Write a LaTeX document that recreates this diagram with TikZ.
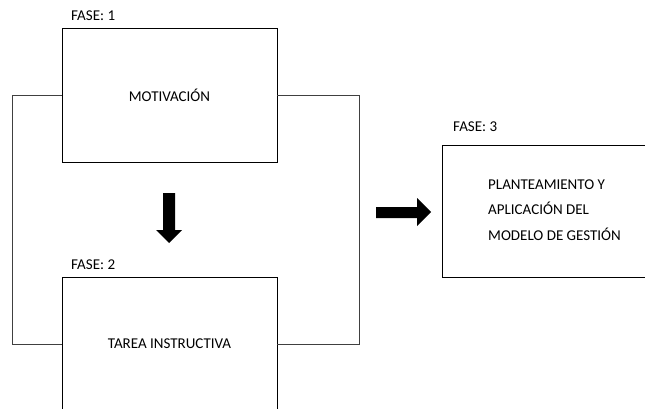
\documentclass[tikz,border=0pt]{standalone}
\usepackage{fontspec}
\setmainfont{Carlito}

\begin{document}
\begin{tikzpicture}
		[x=1pt,y=-1pt,
		 caja/.style= {draw=black,line width=0.8pt,minimum width=215pt,minimum height=134pt,inner sep=0pt,font=\fontsize{15}{17}\selectfont},
		 fase/.style= {anchor=west,inner sep=0pt,font=\fontsize{15}{17}\selectfont},
		 flecha/.style= {fill=black},
		 linea/.style= {line width=0.8pt,draw=black!75}]

		\clip (0,0) rectangle (645,409);

		\node[caja] (m1) at (169.5,95) {MOTIVACIÓN}
		;

		\node[caja] (m2) at (169.5,344) {TAREA INSTRUCTIVA}
		;

		\node[caja,minimum width=230pt,minimum height=132pt] (m3) at (557,211) {}
		;

		\node[anchor=west,inner sep=0pt,align=left,font=\fontsize{15}{25.5}\selectfont] (t3) at (488,210)
			{PLANTEAMIENTO Y\\APLICACIÓN DEL\\MODELO DE GESTIÓN}
		;

		\node[fase] (f1) at (71,16) {FASE: 1};
		\node[fase] (f2) at (71,265) {FASE: 2};
		\node[fase] (f3) at (453,127) {FASE: 3};

		% flechas
		\fill[flecha] (163,193) -- (175,193) -- (175,230) -- (182,230) -- (169,243)
			-- (156,230) -- (163,230) -- cycle;
		\fill[flecha] (376,207) -- (417,207) -- (417,198) -- (431,212) -- (417,226)
			-- (417,218) -- (376,218) -- cycle;

		% lazo
		\coordinate (iz) at (12,95);
		\coordinate (de) at (359,95);
		\draw[linea] (m1.west) -- (iz) |- (m2.west);
		\draw[linea] (m1.east) -- (de) |- (m2.east);

	\end{tikzpicture}
\end{document}
